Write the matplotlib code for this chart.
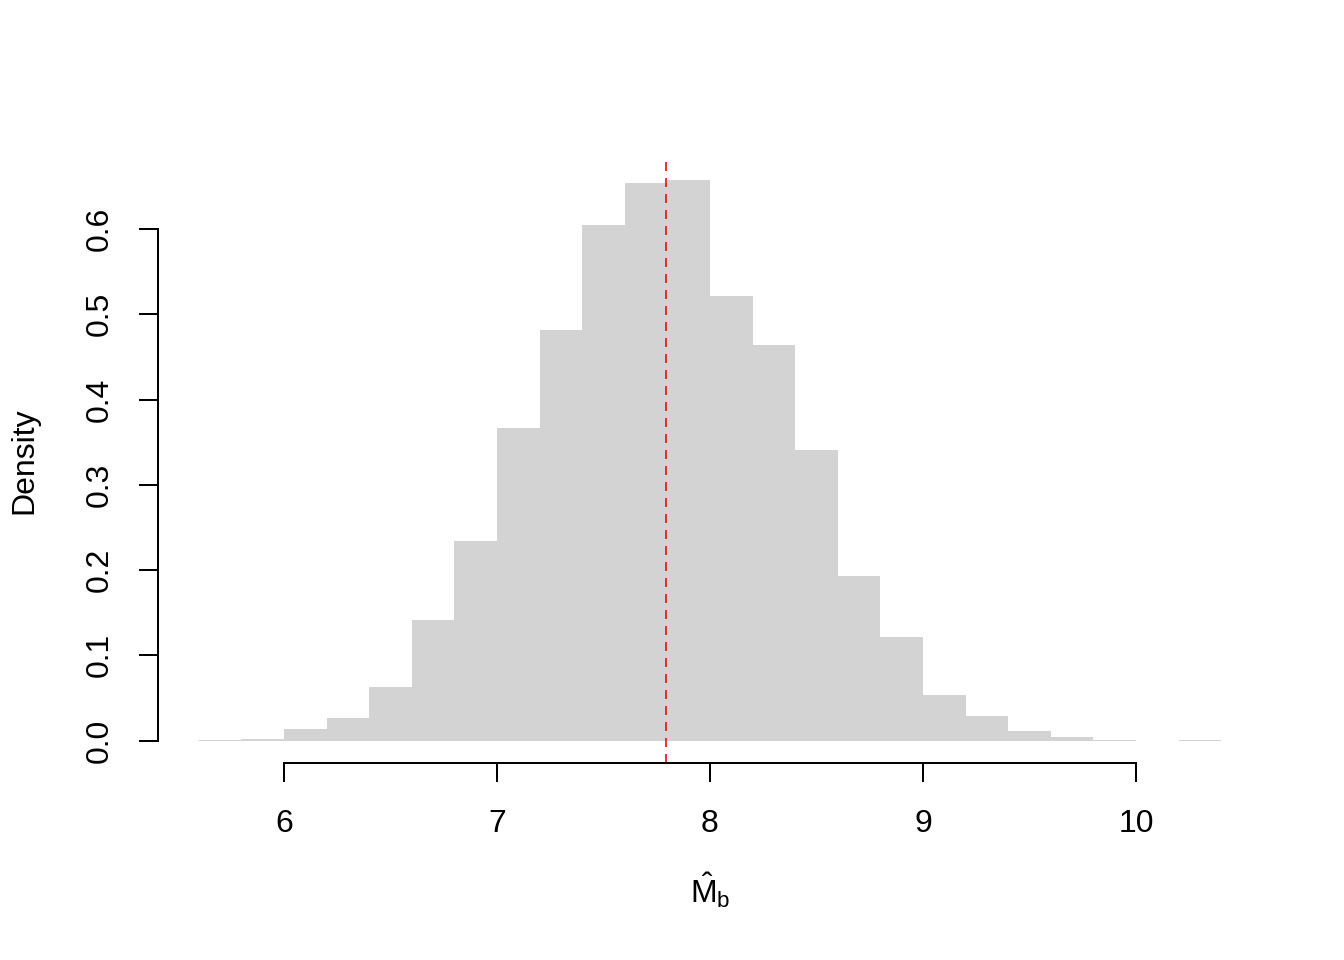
import matplotlib
matplotlib.use("Agg")
import matplotlib.pyplot as plt
import numpy as np

# Histogram of bootstrap estimates
breaks = [5.6, 5.8, 6.0, 6.2, 6.4, 6.6, 6.8, 7.0, 7.2, 7.4, 7.6, 7.8, 8.0,
          8.2, 8.4, 8.6, 8.8, 9.0, 9.2, 9.4, 9.6, 9.8, 10.0, 10.2, 10.4]
density = [0.0005, 0.002, 0.014, 0.027, 0.063, 0.142, 0.234, 0.367, 0.482,
           0.605, 0.654, 0.657, 0.521, 0.464, 0.341, 0.193, 0.122, 0.054,
           0.029, 0.011, 0.004, 0.001, 0.0, 0.0005]
estimate = 7.793

x_ticks = [6, 7, 8, 9, 10]
y_ticks = [0.0, 0.1, 0.2, 0.3, 0.4, 0.5, 0.6]

plt.rcParams['font.family'] = ['Liberation Sans', 'DejaVu Sans']
plt.rcParams['mathtext.fontset'] = 'custom'
plt.rcParams['mathtext.rm'] = 'Liberation Sans'
plt.rcParams['mathtext.it'] = 'Liberation Sans'

fig = plt.figure(figsize=(7, 5), dpi=192)
ax = fig.add_axes([158 / 1344, 1 - 763 / 960, (1262 - 158) / 1344, (763 - 158) / 960])

widths = np.diff(breaks)
ax.bar(breaks[:-1], density, width=widths, align='edge',
       color='#D3D3D3', edgecolor='none', linewidth=0)

ax.axvline(estimate, color='red', alpha=0.8, lw=0.75, linestyle=(0, (4.5, 3.5)))

span = breaks[-1] - breaks[0]
ax.set_xlim(breaks[0] - 0.04 * span, breaks[-1] + 0.04 * span)
ymax = max(density)
ax.set_ylim(-0.04 * ymax, ymax * 1.04)

ax.set_xticks(x_ticks)
ax.set_xticklabels([str(t) for t in x_ticks])
ax.set_yticks(y_ticks)
ax.set_yticklabels([f"{t:.1f}" for t in y_ticks], rotation=90, va='center')

for s in ['top', 'right']:
    ax.spines[s].set_visible(False)
ax.spines['bottom'].set_bounds(x_ticks[0], x_ticks[-1])
ax.spines['left'].set_bounds(y_ticks[0], y_ticks[-1])
for s in ['bottom', 'left']:
    ax.spines[s].set_linewidth(0.75)

ax.tick_params(direction='out', length=7.2, width=0.75, labelsize=12)
ax.tick_params(axis='x', pad=10)
ax.tick_params(axis='y', pad=9)

ax.set_xlabel(r'$\hat{\mathrm{M}}_{\mathrm{b}}$', fontsize=12, labelpad=12)
ax.set_ylabel('Density', fontsize=12, labelpad=17)

fig.savefig('out.png', dpi=192, facecolor='white')
